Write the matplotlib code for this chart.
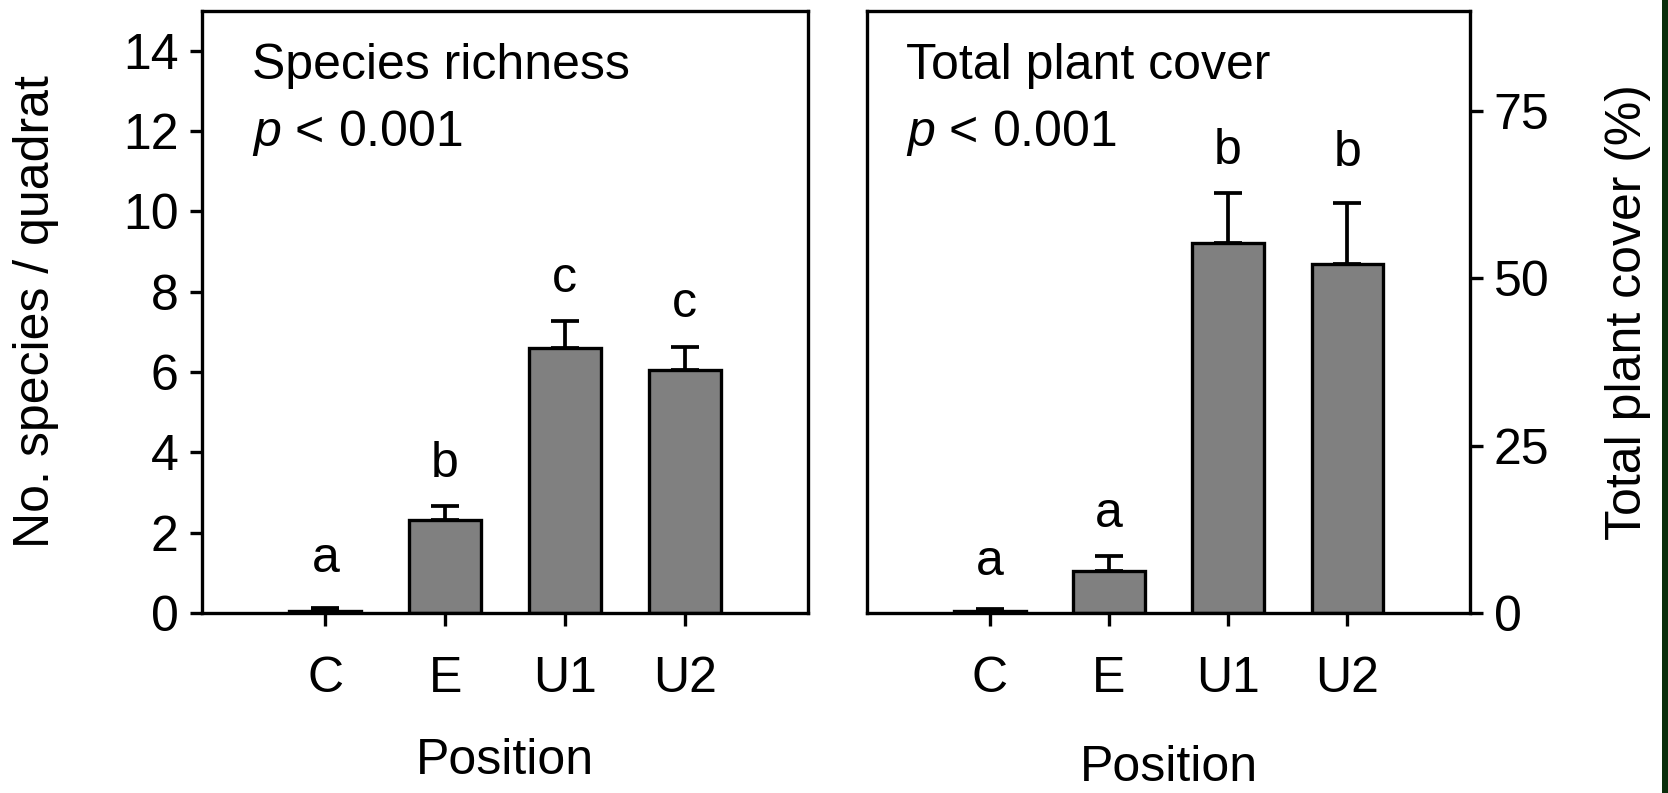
import numpy as np
import matplotlib.pyplot as plt
from matplotlib.patches import Rectangle

plt.rcParams['font.family'] = ['Liberation Sans', 'DejaVu Sans']
plt.rcParams['mathtext.fontset'] = 'custom'
plt.rcParams['mathtext.it'] = 'Liberation Sans:italic'
plt.rcParams['mathtext.rm'] = 'Liberation Sans'

positions = ['C', 'E', 'U1', 'U2']

# species richness (mean, upper SE) and letters
richness = [0.05, 2.3, 6.6, 6.05]
richness_se = [0.06, 0.35, 0.67, 0.58]
richness_letters = ['a', 'b', 'c', 'c']

# total plant cover (%)
cover = [0.3, 6.3, 55.2, 52.2]
cover_se = [0.3, 2.2, 7.5, 9.0]
cover_letters = ['a', 'a', 'b', 'b']

fs = 36
lw = 2.4

fig = plt.figure(figsize=(16.68, 7.93), dpi=100)
ax1 = fig.add_axes([0.1211, 0.2272, 0.3633, 0.7594])
ax2 = fig.add_axes([0.5198, 0.2272, 0.3615, 0.7594])

x = np.arange(len(positions))


def draw(ax, vals, se, letters, ymax, offs):
    ax.bar(x, vals, 0.6, color='#808080', edgecolor='black', linewidth=lw, zorder=2)
    ax.errorbar(x, vals, yerr=[np.zeros(len(vals)), se], fmt='none',
                ecolor='black', elinewidth=lw + 0.3, capsize=10, capthick=lw + 0.3, zorder=1)
    for xi, v, s, l, o in zip(x, vals, se, letters, offs):
        ax.annotate(l, (xi, v + s), xytext=(0, o), textcoords='offset points',
                    ha='center', va='bottom', fontsize=fs)
    ax.set_xlim(-1.03, 4.03)
    ax.set_ylim(0, ymax)
    ax.set_xticks(x)
    ax.set_xticklabels(positions, fontsize=fs)
    for sp in ax.spines.values():
        sp.set_linewidth(lw)
    ax.tick_params(direction='out', length=9, width=lw, labelsize=fs, pad=8)
    ax.tick_params(axis='x', pad=22)


draw(ax1, richness, richness_se, richness_letters, 15, [19, 14, 14, 14])
ax1.set_yticks(np.arange(0, 15, 2))
ax1.set_ylabel('No. species / quadrat', fontsize=fs, labelpad=46)
ax1.set_xlabel('Position', fontsize=fs, labelpad=26)
ax1.text(0.083, 0.908, 'Species richness', transform=ax1.transAxes,
         fontsize=fs, va='center')
ax1.text(0.083, 0.797, '$p$ < 0.001', transform=ax1.transAxes,
         fontsize=fs, va='center')

draw(ax2, cover, cover_se, cover_letters, 90, [17, 14, 14, 20])
ax2.yaxis.tick_right()
ax2.yaxis.set_label_position('right')
ax2.set_yticks([0, 25, 50, 75])
ax2.set_ylabel('Total plant cover (%)', fontsize=fs, labelpad=40)
ax2.set_xlabel('Position', fontsize=fs, labelpad=31)
ax2.text(0.065, 0.908, 'Total plant cover', transform=ax2.transAxes,
         fontsize=fs, va='center')
ax2.text(0.065, 0.797, '$p$ < 0.001', transform=ax2.transAxes,
         fontsize=fs, va='center')

# dark strip on the right edge of the original image
fig.patches.append(Rectangle((1662 / 1668, 0), 6 / 1668, 1, transform=fig.transFigure,
                             facecolor='#0b2e0b', edgecolor='none'))

fig.savefig('out.png', dpi=100)
